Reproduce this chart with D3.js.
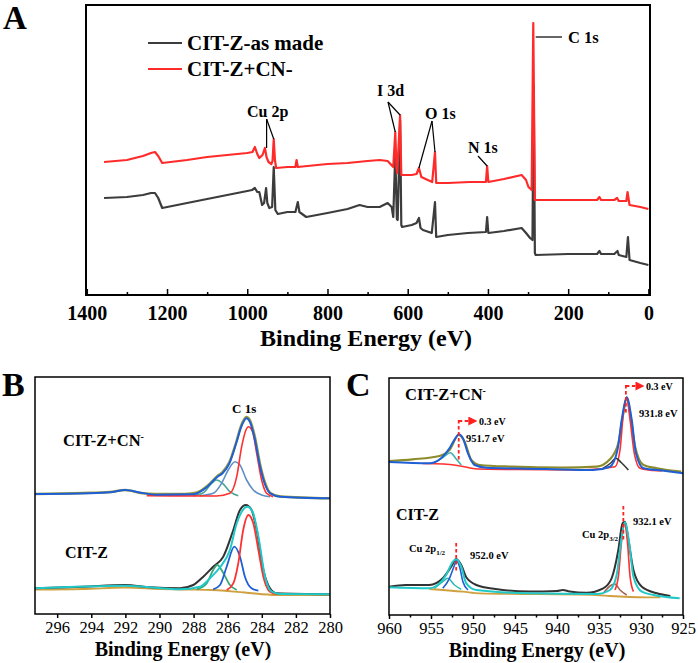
<!DOCTYPE html>
<html><head><meta charset="utf-8">
<script src="https://cdn.jsdelivr.net/npm/d3@7"></script>
<style>body{margin:0;background:#fff}svg{display:block}</style>
</head><body>
<svg id="chart" width="698" height="663" font-family="Liberation Serif"></svg>
<script>
// ---------------- DATA ----------------
// Panel A: survey spectra, [binding energy (eV), intensity (a.u.)]
const surveyTicks = [1400,1200,1000,800,600,400,200,0];
const surveyMinor = [1300,1100,900,700,500,300,100];
const surveyNames = ["CIT-Z-as made","CIT-Z+CN-"];
const surveyMade = [[1357,97],[1300,98],[1260,100],[1240,102],[1230,102],[1222,97],[1212,87],[1150,92],[1100,96],[1050,100],[1000,104],[988,105],[981,107],[975,103],[970,103],[963,90],[958,92],[953,107],[950,92],[945,87],[938,88],[934,128],[930,85],[924,81],[900,83],[880,83],[874,93],[870,83],[853,78],[800,82],[750,86],[720,90],[700,88],[670,88],[650,92],[640,88],[636,78],[631,142],[627,76],[625,75],[619,175],[616,70],[614,68],[590,70],[578,72],[572,77],[568,67],[562,65],[540,62],[532,93],[529,58],[500,60],[450,62],[405,63],[402,78],[399,62],[360,64],[316,67],[305,62],[295,57],[289,55],[286,210],[283,42],[281,40],[200,41],[128,41],[122,44],[118,41],[85,41],[77,44],[74,40],[55,38],[51,58],[47,35],[20,32],[0,30]];
const surveyCN = [[1357,133],[1300,135],[1260,139],[1240,142],[1230,143],[1222,139],[1212,132],[1150,135],[1100,138],[1050,140],[1000,142],[987,143],[981,148],[975,141],[970,137],[962,140],[956,147],[952,138],[947,133],[940,131],[937,134],[934,156],[931,135],[928,127],[900,128],[880,128],[877,135],[874,128],[850,129],[800,131],[750,132],[700,134],[670,135],[650,134],[636,128],[631,163],[628,127],[626,122],[619,180],[616,120],[590,120],[578,121],[572,127],[566,118],[550,115],[539,113],[532,143],[529,112],[500,112],[445,113],[405,113],[402,129],[399,113],[360,116],[316,120],[305,115],[299,108],[291,105],[287,272],[283,95],[200,95],[128,95],[122,98],[118,95],[85,95],[78,97],[74,94],[55,94],[52,103],[47,90],[20,88],[0,86]];

// Panel B: C 1s high-resolution
const c1sTicks = [296,294,292,290,288,286,284,282,280];
const c1sCN_raw = [[297.3,120],[294.5,121],[292.9,122],[292.0,124],[291.1,121],[290.2,120],[288.5,120],[287.8,121.5],[287.2,128],[286.6,138],[286.3,142],[285.9,152],[285.5,172],[285.2,189],[284.9,197],[284.7,194],[284.4,177],[284.1,150],[283.8,131],[283.5,121],[282.9,117.5],[280.0,115.7]];
const c1sCN_env = [[297.3,120],[294.1,120.7],[292.9,121.7],[292.0,124],[291.1,121.3],[290.2,119.3],[288.0,119.7],[287.8,120.7],[287.2,127.3],[286.6,137.3],[286.3,140.7],[285.9,150.7],[285.5,170.7],[285.2,187.3],[284.9,195.7],[284.7,192.3],[284.4,174],[284.1,147.3],[283.8,129],[283.5,120.7],[282.9,117.3],[280.0,115.7]];
const c1sCN_cc = [[290.75,118.3],[286.65,118],[285.87,120.7],[285.47,137.3],[285.18,167.3],[284.93,184],[284.79,187.3],[284.54,182.3],[284.30,160.7],[284.01,134],[283.72,120.7],[283.33,117.3]];
const c1sCN_co = [[287.63,118.3],[286.85,120.7],[286.36,130.7],[285.97,144],[285.57,152.3],[285.28,149],[284.89,134],[284.50,124],[284.01,119],[283.52,117.3]];
const c1sCN_coo = [[288.02,118.3],[287.43,121.3],[286.94,130.7],[286.65,134],[286.30,130.7],[285.87,122.3],[285.38,118.3]];
const c1sZ_raw = [[297.31,25.7],[294.47,27.3],[292.03,29],[290.56,26.7],[288.80,25.7],[288.02,29],[287.43,37.3],[286.85,47.3],[286.26,57.3],[285.67,84],[285.28,104],[284.93,109],[284.60,104],[284.30,84],[283.91,44],[283.52,25.7],[283.13,20.7],[280.0,19.7]];
const c1sZ_env = [[297.31,25.7],[292.03,28.3],[288.80,24.7],[287.63,27.3],[287.04,35.7],[286.45,46.7],[285.87,64],[285.47,90.7],[285.18,102.3],[284.85,107.3],[284.54,102.3],[284.20,77.3],[283.81,37.3],[283.42,22.3],[282.93,20],[280.0,19.7]];
const c1sZ_cc = [[286.06,24],[285.67,30.7],[285.38,50.7],[285.09,84],[284.79,99],[284.50,90.7],[284.20,64],[283.91,37.3],[283.52,22.3],[283.13,20]];
const c1sZ_co = [[286.85,24.7],[286.45,29],[286.06,47.3],[285.61,67.3],[285.28,57.3],[284.99,37.3],[284.60,25.7],[284.20,23.3]];
const c1sZ_coo = [[287.82,24.7],[287.23,30.7],[286.85,44],[286.61,49],[286.30,42.3],[285.87,29],[285.47,24]];
const c1sZ_bg = [[297.31,24.5],[294.5,25],[292.0,26.5],[290.0,25],[288.8,24.5],[286.85,24],[285.0,21.5],[283.13,19],[280.0,19]];

// Panel C: Cu 2p high-resolution
const cu2pTicks = [960,955,950,945,940,935,930,925];
const cu2pMinor = [957.5,952.5,947.5,942.5,937.5,932.5,927.5];
const cuCN_raw = [[960,154],[957.2,155.7],[954.0,159],[952.8,165],[951.7,180],[951.0,173.3],[950.2,155],[949.2,150],[945.3,148.3],[939.3,147.3],[935.3,148.3],[933.7,155.7],[932.7,171.7],[932.1,201.7],[931.7,217.7],[931.3,201.7],[930.7,168.3],[929.7,150],[928.1,146.7],[925.2,143.3]];
const cuCN_env = [[960,153],[955.2,151.7],[953.8,156.7],[952.8,166.7],[952.1,176.7],[951.7,180.7],[951.2,176.7],[950.6,161.7],[949.8,150],[948.4,147.3],[941.3,146],[935.7,145],[933.7,148.3],[932.8,165],[932.3,195],[931.7,217.7],[931.1,195],[930.6,161.7],[929.7,146.7],[927.3,144.3],[925.0,141.7]];
const cuCN_main = [[956,151.5],[953.5,151],[951.5,149],[949.5,146],[945,145.5],[937,145],[933.1,148.3],[932.5,165],[932.1,201.7],[931.7,216.7],[931.3,195],[930.8,161.7],[930.1,146.7],[928.5,144.5],[927.5,144]];
const cuCN_sat32 = [[934.5,146.7],[933.6,152],[933.0,156.7],[932.3,152],[931.5,145]];
const cuCN_sat12 = [[954.4,153.3],[953.5,158],[952.7,162.3],[952.0,156],[951.4,150]];
const cuZ_raw = [[960,28.3],[958,30],[955.2,30],[953.6,36.7],[952.6,48.3],[952.0,56],[951.4,50],[950.8,37.7],[949.6,30],[947.3,26],[943.3,23.5],[940,24],[939.3,25],[938.5,23.5],[936.5,22.3],[934.5,26.7],[933.5,36.7],[932.7,65],[932.2,91.7],[931.9,93.3],[931.5,75],[930.9,45],[929.9,28.3],[928.1,21.7],[926.5,19]];
const cuZ_env = [[960,27.7],[955.2,26.7],[954.2,30],[953.2,40],[952.4,53.3],[952.0,56],[951.4,48.3],[950.8,31.7],[949.6,25],[943.3,21.7],[935.3,21],[933.7,25],[932.9,40],[932.4,71.7],[931.9,92.7],[931.4,71.7],[930.9,38.3],[929.9,23.3],[928.5,20],[925.4,16.7]];
const cuZ_p12 = [[953.6,26.7],[952.8,36.7],[952.2,50],[952.0,54.3],[951.6,48.3],[951.2,33.3],[950.6,25]];
const cuZ_s12 = [[954.6,26.7],[953.6,33.3],[953.0,36.7],[952.2,30],[951.4,25.7]];
const cuZ_p32 = [[933.1,25],[932.7,38.3],[932.3,75],[932.0,91.7],[931.6,71.7],[931.3,38.3],[930.9,23.3]];
const cuZ_s32 = [[934.5,21.7],[933.5,30],[933.1,31],[932.5,25],[931.7,20]];
const cuZ_bg = [[955.2,26],[951.2,23.3],[949.2,21.7],[935.3,20],[933.7,19],[929.3,17.7],[927.7,17.7]];

// ---------------- DRAW ----------------
const svg = d3.select("#chart");
const FONT = "Liberation Serif";

function frame(l,t,r,b,w){
  svg.append("rect").attr("x",l).attr("y",t).attr("width",r-l).attr("height",b-t)
    .attr("fill","none").attr("stroke","#000").attr("stroke-width",w);
}
function txt(x,y,s,size,weight,anchor){
  return svg.append("text").attr("x",x).attr("y",y).attr("font-family",FONT)
    .attr("font-size",size).attr("font-weight",weight||"bold")
    .attr("text-anchor",anchor||"start").attr("fill","#000").text(s);
}
function drawLine(g,data,x,y,color,w,curve){
  const gen = d3.line().x(d=>x(d[0])).y(d=>y(d[1])).curve(curve||d3.curveLinear);
  g.append("path").datum(data).attr("d",gen).attr("fill","none")
    .attr("stroke",color).attr("stroke-width",w).attr("stroke-linejoin","round");
}
function styleAxis(ax,size,weight){
  ax.select(".domain").remove();
  ax.attr("font-family",FONT).attr("font-size",size);
  ax.selectAll("text").attr("font-family",FONT).attr("font-size",size).attr("font-weight",weight).attr("fill","#000");
  ax.selectAll("line").attr("stroke","#000").attr("stroke-width",1.5);
}

// ===== Panel A =====
const A = {l:86,t:5,r:650,b:295};
const xA = d3.scaleLinear().domain([1402,-4]).range([A.l,A.r]);
const yA = d3.scaleLinear().domain([0,290]).range([A.b,A.t]);
const gA = svg.append("g");
drawLine(gA,surveyMade,xA,yA,"#3c3c3c",2.2);
drawLine(gA,surveyCN,xA,yA,"#ff2b2b",2.2);
frame(A.l,A.t,A.r,A.b,2);
let ax = svg.append("g").attr("transform",`translate(0,${A.b})`)
  .call(d3.axisBottom(xA).tickValues(surveyTicks).tickSize(-6).tickPadding(11).tickFormat(d3.format("d")));
styleAxis(ax,20,"bold");
ax = svg.append("g").attr("transform",`translate(0,${A.b})`)
  .call(d3.axisBottom(xA).tickValues(surveyMinor).tickSize(-3).tickFormat(""));
styleAxis(ax,20,"bold");
txt(366,346,"Binding Energy (eV)",24,"bold","middle");
txt(3,29,"A",33,"bold");
// legend
const legColors = ["#3c3c3c","#ff2b2b"];
surveyNames.forEach((n,i)=>{
  const yy = 43 + i*26;
  svg.append("line").attr("x1",148).attr("x2",182).attr("y1",yy).attr("y2",yy)
    .attr("stroke",legColors[i]).attr("stroke-width",2.2);
  txt(187,yy+7,n,21,"bold");
});
// peak labels with leaders
function leader(x1,y1,x2,y2){
  svg.append("line").attr("x1",x1).attr("y1",y1).attr("x2",x2).attr("y2",y2)
    .attr("stroke","#000").attr("stroke-width",1.2);
}
txt(247,117,"Cu 2p",16,"bold");
leader(xA(953)+0.5,119,xA(953)+0.5,yA(147));
leader(xA(953)+0.5,119,xA(934),yA(156));
txt(377,96,"I 3d",16,"bold");
leader(388,102,xA(631),yA(163));
leader(388,102,xA(619),yA(180));
txt(425,119,"O 1s",16,"bold");
leader(432,121,xA(572),yA(127));
leader(432,121,xA(532),yA(143));
txt(468,153,"N 1s",16,"bold");
leader(478,156,xA(402),yA(129));
txt(568,43,"C 1s",16.5,"bold");
leader(xA(286)+2,37,562,37);

// ===== Panel B =====
const B = {l:35,t:377,r:330,b:614};
const xB = d3.scaleLinear().domain([297.3,280]).range([B.l,B.r]);
const yB = d3.scaleLinear().domain([0,237]).range([B.b,B.t]);
const gB = svg.append("g");
const cm = d3.curveMonotoneX;
drawLine(gB,c1sCN_raw,xB,yB,"#9a9a3a",2.4,cm);
drawLine(gB,c1sCN_coo,xB,yB,"#4aa690",1.6,cm);
drawLine(gB,c1sCN_co,xB,yB,"#5f8fc4",1.6,cm);
drawLine(gB,c1sCN_cc,xB,yB,"#ff3030",1.6,cm);
drawLine(gB,c1sCN_env,xB,yB,"#1f5fd6",2,cm);
drawLine(gB,c1sZ_bg,xB,yB,"#d0a040",1.8,cm);
drawLine(gB,c1sZ_raw,xB,yB,"#333",2,cm);
drawLine(gB,c1sZ_coo,xB,yB,"#3aa878",1.8,cm);
drawLine(gB,c1sZ_co,xB,yB,"#1f5fd6",1.8,cm);
drawLine(gB,c1sZ_cc,xB,yB,"#ff3030",1.8,cm);
drawLine(gB,c1sZ_env,xB,yB,"#20c8c8",2,cm);
frame(B.l,B.t,B.r,B.b,1.5);
ax = svg.append("g").attr("transform",`translate(0,${B.b})`)
  .call(d3.axisBottom(xB).tickValues(c1sTicks).tickSize(4).tickPadding(3).tickFormat(d3.format("d")));
styleAxis(ax,16.5,"normal");
txt(183,656,"Binding Energy (eV)",20,"bold","middle");
txt(2,396,"B",34,"bold");
txt(232,413,"C 1s",13,"bold");
let t = txt(63,446,"CIT-Z+CN",16.5,"bold");
t.append("tspan").attr("dy",-6).attr("font-size",10).text("-");
txt(65,558,"CIT-Z",16,"bold");

// ===== Panel C =====
const C = {l:389,t:378,r:683,b:615};
const xC = d3.scaleLinear().domain([960,925]).range([C.l,C.r]);
const yC = d3.scaleLinear().domain([0,237]).range([C.b,C.t]);
const gC = svg.append("g");
drawLine(gC,cuCN_raw,xC,yC,"#8c8c2c",2.2,cm);
drawLine(gC,cuCN_main,xC,yC,"#ff3030",1.6,cm);
drawLine(gC,cuCN_sat32,xC,yC,"#3a3a3a",1.6,cm);
drawLine(gC,cuCN_sat12,xC,yC,"#40b0b0",1.6,cm);
drawLine(gC,cuCN_env,xC,yC,"#1f5fd6",2,cm);
drawLine(gC,cuZ_raw,xC,yC,"#333",2,cm);
drawLine(gC,cuZ_bg,xC,yC,"#d0a040",1.8,cm);
drawLine(gC,cuZ_s32,xC,yC,"#a06050",1.5,cm);
drawLine(gC,cuZ_p32,xC,yC,"#ff3030",1.6,cm);
drawLine(gC,cuZ_s12,xC,yC,"#30b8b0",1.5,cm);
drawLine(gC,cuZ_p12,xC,yC,"#1f5fd6",1.6,cm);
drawLine(gC,cuZ_env,xC,yC,"#20c8c8",2,cm);
frame(C.l,C.t,C.r,C.b,1.5);
ax = svg.append("g").attr("transform",`translate(0,${C.b})`)
  .call(d3.axisBottom(xC).tickValues(cu2pTicks).tickSize(4).tickPadding(3).tickFormat(d3.format("d")));
styleAxis(ax,16.5,"normal");
ax = svg.append("g").attr("transform",`translate(0,${C.b})`)
  .call(d3.axisBottom(xC).tickValues(cu2pMinor).tickSize(2.5).tickFormat(""));
styleAxis(ax,16.5,"normal");
txt(537,657,"Binding Energy (eV)",20,"bold","middle");
txt(346,396,"C",34,"bold");

// arrow marker
svg.append("defs").append("marker").attr("id","arr").attr("viewBox","0 0 10 10")
  .attr("refX",8).attr("refY",5).attr("markerWidth",5).attr("markerHeight",5).attr("orient","auto")
  .append("path").attr("d","M0,0L10,5L0,10z").attr("fill","#ff2020");
function dash(x1,y1,x2,y2,arrow){
  const l = svg.append("line").attr("x1",x1).attr("y1",y1).attr("x2",x2).attr("y2",y2)
    .attr("stroke","#ff2020").attr("stroke-width",1.8).attr("stroke-dasharray","3.5,2.5");
  if(arrow) l.attr("marker-end","url(#arr)");
}
// top annotations
dash(xC(951.7),420,xC(951.7),462);
dash(xC(951.7),421,xC(949.7),421,true);
txt(479,424.5,"0.3 eV",10,"bold");
dash(xC(931.8),385,xC(931.8),413);
dash(xC(931.8),386,xC(929.8),386,true);
txt(646,389.5,"0.3 eV",10,"bold");
txt(466,442,"951.7 eV",10.5,"bold");
txt(639,417,"931.8 eV",10.5,"bold");
t = txt(405,400,"CIT-Z+CN",16.5,"bold");
t.append("tspan").attr("dy",-6).attr("font-size",10).text("-");
// bottom annotations
dash(xC(952.0),543,xC(952.0),571);
dash(xC(932.1),506,xC(932.1),542);
txt(396,520,"CIT-Z",16,"bold");
t = txt(409,552,"Cu 2p",10.5,"bold");
t.append("tspan").attr("dy",3).attr("font-size",7).text("1/2");
txt(470,559,"952.0 eV",10.5,"bold");
txt(633,525,"932.1 eV",10.5,"bold");
t = txt(582,538,"Cu 2p",10.5,"bold");
t.append("tspan").attr("dy",3).attr("font-size",7).text("3/2");
</script>
</body></html>
